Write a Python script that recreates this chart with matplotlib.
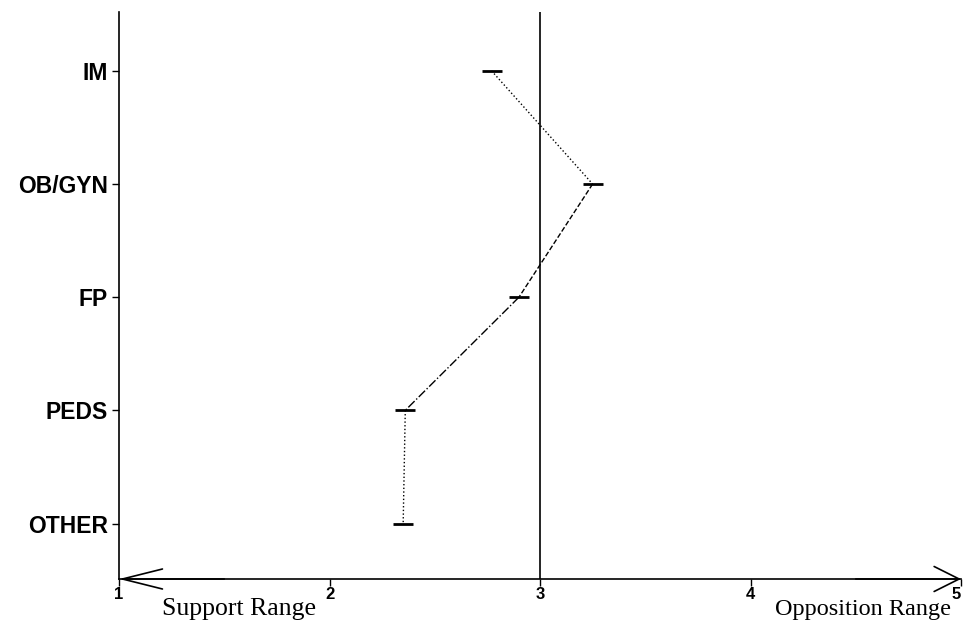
import numpy as np
import matplotlib.pyplot as plt

specialties = ['IM', 'OB/GYN', 'FP', 'PEDS', 'OTHER']
scores = [2.77, 3.25, 2.90, 2.36, 2.35]
seg_styles = [':', '--', '-.', ':']
x_ticks = [1, 2, 3, 4, 5]
neutral = 3

fig = plt.figure(figsize=(9.63, 6.32), dpi=100)
ax = fig.add_axes([119 / 963, 53 / 632, 842 / 963, 567 / 632])

ypos = np.arange(len(specialties))[::-1]

# connecting segments, each with its own line style
for i in range(len(scores) - 1):
    ax.plot(scores[i:i + 2], ypos[i:i + 2], color='black', lw=1.0,
            ls=seg_styles[i], clip_on=False)

# horizontal caps at each point
ax.plot(scores, ypos, ls='none', marker='_', markersize=15, mew=2.0,
        color='black', clip_on=False)

ax.axvline(neutral, color='black', lw=1.2)

ax.set_xlim(1, 5)
ax.set_ylim(-0.49, 4.52)

ax.set_yticks(ypos)
ax.set_yticklabels(specialties, family='Liberation Sans', fontsize=16.5,
                   fontweight='bold')
ax.tick_params(axis='y', length=5, width=1, pad=3)

ax.set_xticks(x_ticks)
ax.set_xticklabels([str(t) for t in x_ticks], family='Liberation Sans',
                   fontsize=12, fontweight='bold')
ax.tick_params(axis='x', length=5, width=1, pad=1)
ax.get_xticklabels()[-1].set_ha('right')

for s in ['top', 'right', 'bottom']:
    ax.spines[s].set_visible(False)
ax.spines['left'].set_linewidth(1.2)

# axis line along the bottom with open arrowheads at both ends
ax.plot([1, 5], [0, 0], color='black', lw=1.2, transform=ax.get_xaxis_transform(),
        clip_on=False)
ax.annotate('', xy=(1.0, 0), xytext=(1.5, 0), xycoords=('data', 'axes fraction'),
            arrowprops=dict(arrowstyle='->,head_length=0.4,head_width=0.1', lw=1.2,
                            color='black', mutation_scale=72, shrinkA=0, shrinkB=0),
            annotation_clip=False)
ax.annotate('', xy=(5.0, 0), xytext=(4.5, 0), xycoords=('data', 'axes fraction'),
            arrowprops=dict(arrowstyle='->,head_length=0.4,head_width=0.2', lw=1.2,
                            color='black', mutation_scale=45, shrinkA=0, shrinkB=0),
            annotation_clip=False)

fig.text(239 / 963, 1 - 615 / 632, 'Support Range', family='Liberation Serif',
         fontsize=18.5, ha='center', va='baseline')
fig.text(863 / 963, 1 - 615 / 632, 'Opposition Range', family='Liberation Serif',
         fontsize=17.5, ha='center', va='baseline')

fig.savefig('out.png', dpi=100)
